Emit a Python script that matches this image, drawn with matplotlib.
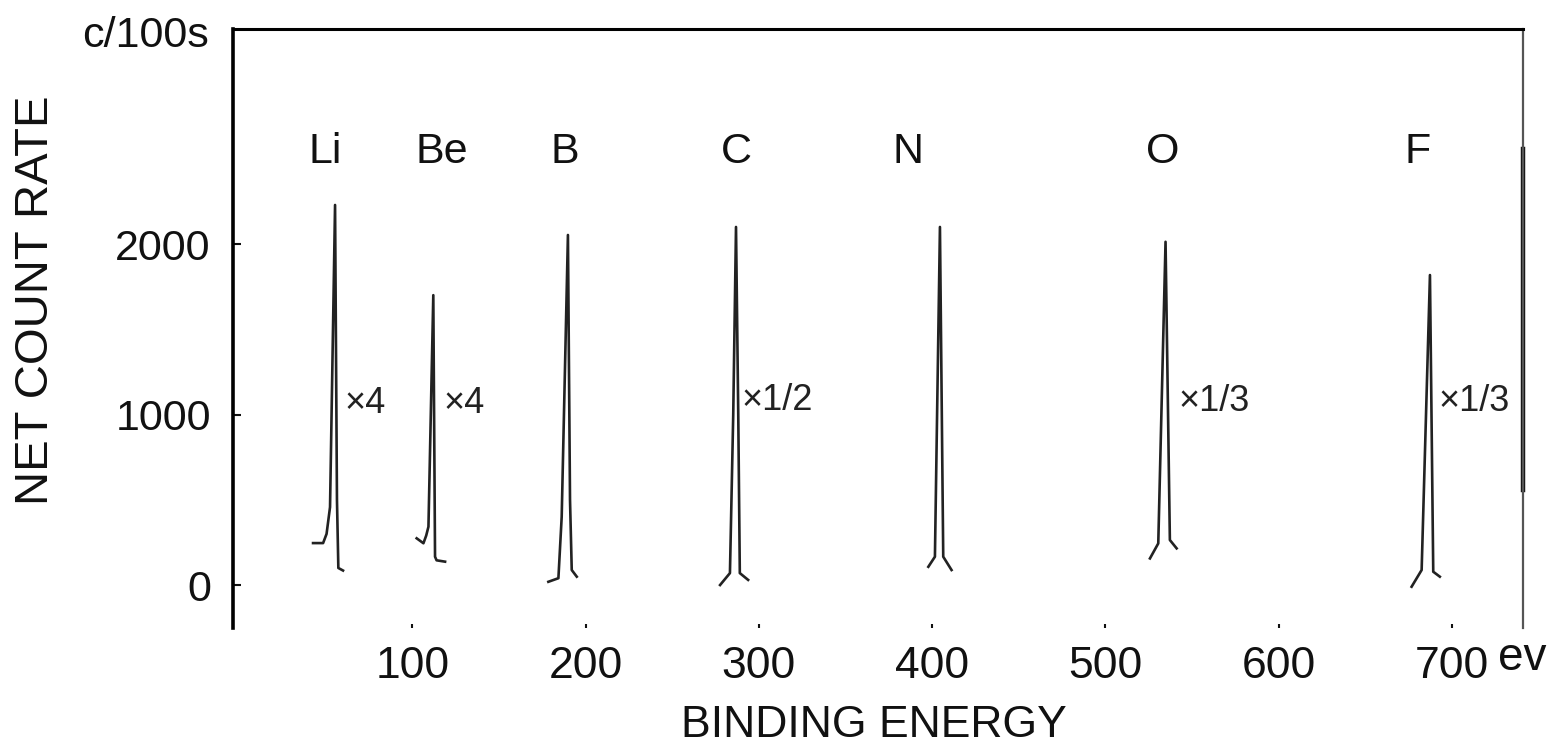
import matplotlib
matplotlib.use("Agg")
import matplotlib.pyplot as plt

plt.rcParams['font.family'] = ['Liberation Sans', 'DejaVu Sans']

# ---- data (binding energy in eV, net count rate in c/100s) ----
elements = ["Li", "Be", "B", "C", "N", "O", "F"]
label_x = [49.6, 117, 188, 287, 386, 533, 680]
label_y = 2540

li_e = [42.7, 48.5, 50.5, 52.5, 55.4, 56.5, 57.3, 60.0]
li_c = [246, 246, 300, 457, 2229, 500, 100, 85]
be_e = [102.5, 106.4, 108.0, 109.3, 112.1, 113.1, 114.0, 118.9]
be_c = [274, 245, 290, 342, 1700, 166, 145, 137]
b_e = [178.5, 184.3, 186.2, 189.8, 191.0, 192.0, 194.9]
b_c = [19, 40, 400, 2053, 500, 88, 49]
c_e = [277.6, 283.3, 285.2, 286.8, 288.1, 289.0, 293.8]
c_c = [0, 70, 1000, 2100, 1000, 70, 30]
n_e = [397.8, 401.6, 404.5, 406.4, 411.2]
n_c = [107, 166, 2100, 166, 88]
o_e = [525.7, 530.5, 534.7, 537.2, 541.1]
o_c = [156, 244, 2013, 264, 215]
f_e = [676.7, 682.5, 687.3, 689.2, 693.0]
f_c = [-10, 88, 1818, 78, 49]

multipliers = ["\u00d74", "\u00d74", "\u00d71/2", "\u00d71/3", "\u00d71/3"]
mult_x = [61, 118, 290, 542, 692]
mult_y = [1067, 1067, 1085, 1075, 1075]

xticks = [100, 200, 300, 400, 500, 600, 700]
yticks = [0, 1000, 2000]

# ---- figure ----
fig = plt.figure(figsize=(15.5, 7.46), dpi=100)
ax = fig.add_axes([233/1550, 1-628/746, (1523-233)/1550, (628-29)/746])
ax.set_xlim(-3.5, 741)
ax.set_ylim(-252, 3261)

for e, c in [(li_e, li_c), (be_e, be_c), (b_e, b_c), (c_e, c_c),
             (n_e, n_c), (o_e, o_c), (f_e, f_c)]:
    ax.plot(e, c, color='#222222', lw=1.9, solid_joinstyle='round')

for name, x in zip(elements, label_x):
    ax.text(x, label_y, name, fontsize=31, ha='center', va='center', color='#111111')

for m, x, y in zip(multipliers, mult_x, mult_y):
    ax.text(x, y, m, fontsize=26, ha='left', va='center', color='#222222')

ax.spines['bottom'].set_visible(False)
ax.spines['left'].set_linewidth(2.6)
ax.spines['top'].set_linewidth(2.2)
ax.spines['right'].set_linewidth(1.6)
ax.spines['right'].set_color('#555555')
ax.axvline(741, ymin=0.23, ymax=0.8, lw=3.2, color='#111111', clip_on=False)

ax.set_xticks(xticks)
ax.set_yticks(yticks)
ax.tick_params(axis='x', direction='in', length=3, width=1.5, pad=13,
               labelsize=32, colors='#111111')
ax.tick_params(axis='y', direction='in', length=6, width=1.5, pad=16,
               labelsize=31, colors='#111111')

fig.text(36/1550, 1-300/746, "NET COUNT RATE", rotation=90, fontsize=34,
         ha='center', va='center', color='#111111')
fig.text(874/1550, 1-737/746, "BINDING ENERGY", fontsize=32,
         ha='center', va='baseline', color='#111111')
fig.text(146/1550, 1-47/746, "c/100s", fontsize=31,
         ha='center', va='baseline', color='#111111')
fig.text(1522/1550, 1-670/746, "ev", fontsize=33,
         ha='center', va='baseline', color='#111111')

fig.savefig("out.png", dpi=100)
